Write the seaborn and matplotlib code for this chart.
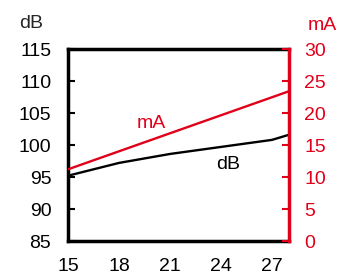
import numpy as np
import pandas as pd
import seaborn as sns
import matplotlib.pyplot as plt

sns.set_style("white")
plt.rcParams['font.family'] = ['Liberation Sans', 'DejaVu Sans']

# data
x_db = [15, 18, 21, 24, 27, 28]
db = [95.2, 97.2, 98.6, 99.7, 100.8, 101.6]
x_ma = [15, 28]
ma = [11.2, 23.4]
x_ticks = [15, 18, 21, 24, 27]
db_ticks = [85, 90, 95, 100, 105, 110, 115]
ma_ticks = [0, 5, 10, 15, 20, 25, 30]

red = '#e1001a'
fs = 14

fig = plt.figure(figsize=(3.39, 2.77), dpi=100)
ax = fig.add_axes([68/339, 36/277, 221/339, 192/277])
ax2 = ax.twinx()

sns.lineplot(x=x_db, y=db, ax=ax, color='black', lw=1.7)
sns.lineplot(x=x_ma, y=ma, ax=ax2, color=red, lw=1.7)

ax.set_xlim(15, 28)
ax.set_ylim(85, 115)
ax2.set_ylim(0, 30)
ax.set_xticks(x_ticks)
ax.set_yticks(db_ticks)
ax2.set_yticks(ma_ticks)

ax.tick_params(axis='both', direction='in', length=5, width=1.5, labelsize=fs, colors='black', pad=12)
ax.tick_params(axis='x', pad=12)
ax2.tick_params(axis='y', direction='in', length=5, width=1.5, labelsize=fs, colors=red, pad=11)

for s in ['left', 'bottom', 'top']:
    ax.spines[s].set_linewidth(2.5)
    ax.spines[s].set_color('black')
    ax2.spines[s].set_visible(False)
ax.spines['right'].set_visible(False)
ax2.spines['right'].set_linewidth(2.5)
ax2.spines['right'].set_color(red)

ax.text(19.9, 18.4, 'mA', color=red, fontsize=fs, ha='center', va='center',
        transform=ax2.transData)
ax.text(24.4, 96.9, 'dB', color='black', fontsize=fs, ha='center', va='center')

fig.text(31.5/339, 1 - 24/277, 'dB', fontsize=fs, ha='center', va='center')
fig.text(322/339, 1 - 25/277, 'mA', fontsize=fs, ha='center', va='center', color=red)

fig.savefig('out.png', dpi=100)
